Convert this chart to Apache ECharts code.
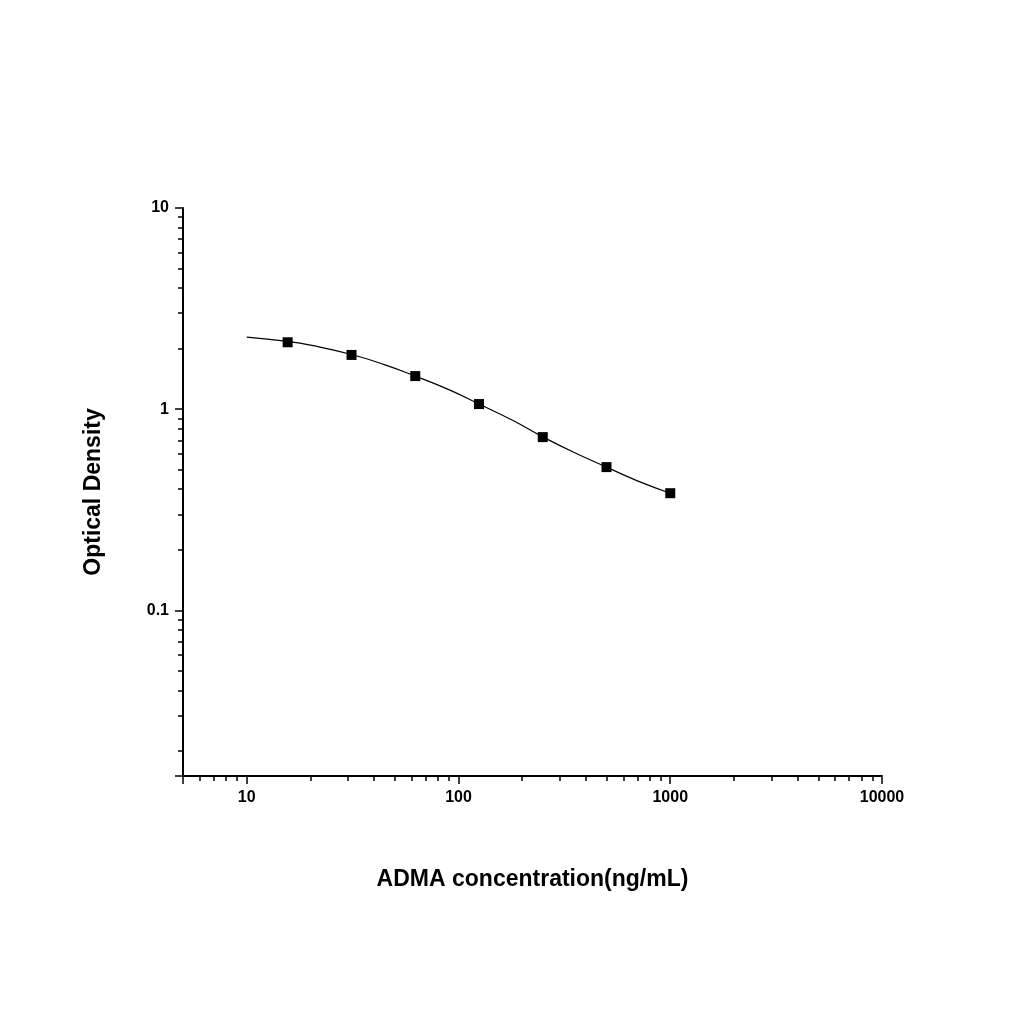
<!DOCTYPE html>
<html>
<head>
<meta charset="utf-8" />
<script src="https://cdn.jsdelivr.net/npm/echarts@6/dist/echarts.min.js"></script>
<style>
  * { margin: 0; padding: 0; }
  html, body, #chart { width: 1024px; height: 1024px; background: #fff; }
</style>
</head>
<body>
<div id="chart"></div>
<script>
  // standard points
  var conc = [15.6, 31.25, 62.5, 125, 250, 500, 1000];
  var od = [2.15, 1.86, 1.46, 1.06, 0.726, 0.515, 0.382];
  // fitted curve
  var curveX = [10, 15.6, 20, 31.25, 45, 62.5, 90, 125, 180, 250, 350, 500, 700, 1000];
  var curveY = [2.28, 2.17, 2.08, 1.87, 1.66, 1.46, 1.25, 1.06, 0.88, 0.728, 0.61, 0.515, 0.44, 0.382];

  function isPow10(v) {
    var l = Math.log10(v);
    return Math.abs(l - Math.round(l)) < 1e-6;
  }
  var font = "Arial, 'Liberation Sans', sans-serif";

  var chart = echarts.init(document.getElementById("chart"));
  chart.setOption({
    animation: false,
    grid: { left: 183, right: 142, top: 208, bottom: 248 },
    xAxis: {
      type: "log",
      min: 5,
      max: 10000,
      name: "ADMA concentration(ng/mL)",
      nameLocation: "middle",
      nameGap: 92,
      nameTextStyle: { fontFamily: font, fontSize: 23, fontWeight: "bold", color: "#000" },
      axisLine: { lineStyle: { color: "#000", width: 2 } },
      axisTick: { inside: false, length: 8, lineStyle: { color: "#000", width: 1.5 } },
      minorTick: { show: true, splitNumber: 9, length: 5, lineStyle: { color: "#000", width: 1.5 } },
      axisLabel: {
        fontFamily: font, fontSize: 16, fontWeight: "bold", color: "#000", margin: 14,
        formatter: function (v) { return isPow10(v) ? String(Math.round(v)) : ""; }
      },
      splitLine: { show: false }
    },
    yAxis: {
      type: "log",
      min: 0.015,
      max: 10,
      name: "Optical Density",
      nameLocation: "middle",
      nameGap: 78,
      nameTextStyle: { fontFamily: font, fontSize: 23, fontWeight: "bold", color: "#000" },
      axisLine: { show: true, lineStyle: { color: "#000", width: 2 } },
      axisTick: { show: true, length: 8, lineStyle: { color: "#000", width: 1.5 } },
      minorTick: { show: true, splitNumber: 9, length: 5, lineStyle: { color: "#000", width: 1.5 } },
      axisLabel: {
        fontFamily: font, fontSize: 16, fontWeight: "bold", color: "#000", margin: 14,
        formatter: function (v) {
          if (!isPow10(v)) return "";
          return v >= 1 ? String(Math.round(v)) : String(v);
        }
      },
      splitLine: { show: false }
    },
    series: [
      {
        type: "line",
        data: curveX.map(function (x, i) { return [x, curveY[i]]; }),
        smooth: true,
        showSymbol: false,
        lineStyle: { color: "#000", width: 1.2 }
      },
      {
        type: "scatter",
        data: conc.map(function (x, i) { return [x, od[i]]; }),
        symbol: "rect",
        symbolSize: 10,
        itemStyle: { color: "#000", opacity: 1 }
      }
    ]
  });
</script>
</body>
</html>
